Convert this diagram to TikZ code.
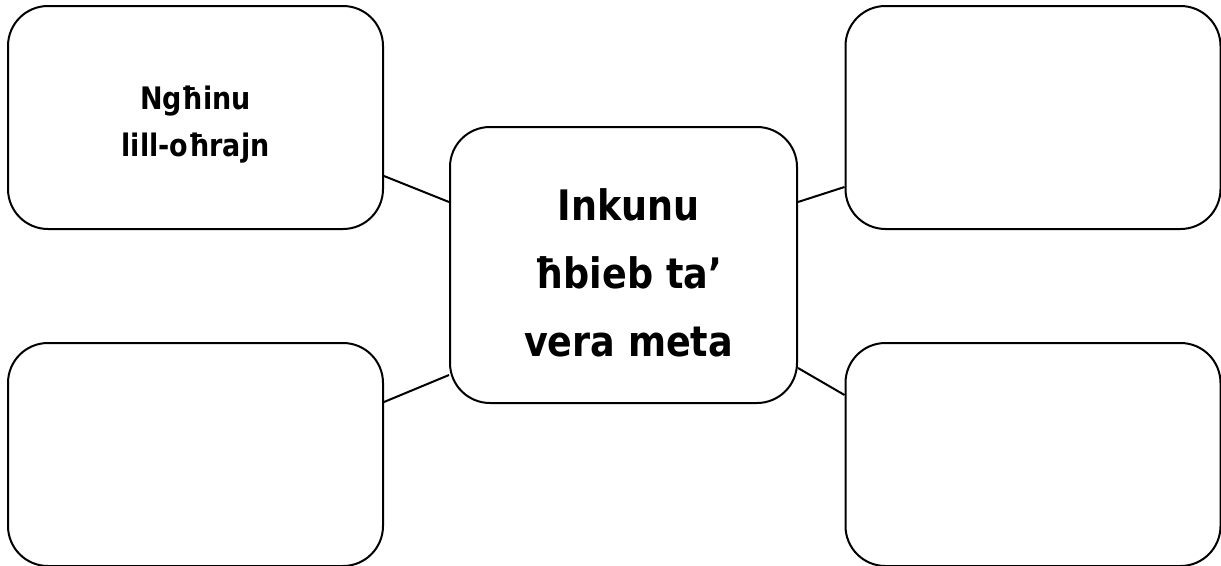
\documentclass[tikz,border=0pt]{standalone}
\usepackage{fontspec}
\setmainfont{DejaVu Sans}[BoldFeatures={FakeStretch=0.87}]
\begin{document}
\begin{tikzpicture}[x=1pt,y=-1pt,line width=2pt,
    box/.style={draw,rounded corners=40pt,minimum width=375pt,minimum height=223pt,inner sep=0pt},
    hub/.style={box,minimum width=347pt,minimum height=276pt},
    words/.style={align=center,inner sep=0pt}]
        \useasboundingbox (0,0) rectangle (1221,565);
        \node[box](tl)at(195.5,117.5){};
        \node[box](tr)at(1033,117.5){};
        \node[box](bl)at(195.5,454.5){};
        \node[box](br)at(1033,454.5){};
        \node[hub](mid)at(623.5,265){};
        \node[words,font=\fontsize{31}{47}\selectfont\bfseries](tltext)at([yshift=-7pt]tl){Ngħinu\\lill-oħrajn};
        \node[words,font=\fontsize{42}{68}\selectfont\bfseries](midtext)at([shift={(5pt,-8pt)}]mid){Inkunu\\ħbieb ta’\\vera meta};
        \draw([yshift=-58.5pt]tl.east)--([yshift=63pt]mid.west);
        \draw([yshift=52.5pt]bl.east)--([yshift=-110pt]mid.west);
        \draw([yshift=63pt]mid.east)--([yshift=-69.5pt]tr.west);
        \draw([yshift=-103pt]mid.east)--([yshift=59.5pt]br.west);
    \end{tikzpicture}
\end{document}
